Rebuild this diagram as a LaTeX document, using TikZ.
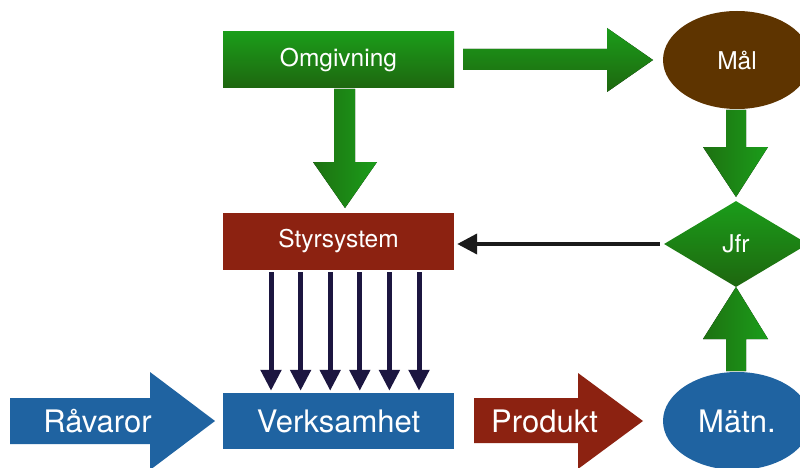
\documentclass[tikz,border=0pt]{standalone}
\usepackage{fontspec}
\setmainfont{TeX Gyre Heros}
\usetikzlibrary{shapes.geometric,arrows.meta}

\definecolor{gtop}{RGB}{27,157,26}
\definecolor{gbot}{RGB}{30,102,15}
\definecolor{rust}{RGB}{140,34,17}
\definecolor{steel}{RGB}{31,99,161}
\definecolor{umber}{RGB}{94,52,0}
\definecolor{ink}{RGB}{28,22,64}
\definecolor{coal}{RGB}{26,26,26}

\begin{document}
\begin{tikzpicture}[x=1pt,y=-1pt,
  box/.style={rectangle,minimum width=231pt,minimum height=56pt,inner sep=0pt,text=white},
  oval/.style={ellipse,minimum width=148pt,minimum height=98pt,inner sep=0pt,text=white},
  greenfill/.style={top color=gtop,bottom color=gbot},
  greenside/.style={left color=gbot!80!gtop,right color=gtop},
  small/.style={font=\fontsize{24.5}{24.5}\selectfont},
  large/.style={font=\fontsize{31}{31}\selectfont},
  control/.style={draw=ink,line width=5pt,shorten <=2pt,shorten >=2pt,
    -{Triangle[width=20pt,length=21pt]}},
  feedback/.style={draw=coal,line width=4pt,shorten <=4pt,shorten >=3pt,
    -{Triangle[width=20pt,length=20pt]}}]

\clip (0,0) rectangle (800,468);
\fill[white] (0,0) rectangle (800,468);

% blocks
\node[box,greenfill,small] (omg) at (338.5,60) {Omgivning};
\node[box,fill=rust,small,minimum height=57pt] (sty) at (338.5,241.5) {Styrsystem};
\node[box,fill=steel,large] (verk) at (338.5,421) {Verksamhet};
\node[oval,fill=umber,small] (mal) at (737,60) {Mål};
\node[oval,fill=steel,large] (matn) at (737,421) {Mätn.};
\node[diamond,greenfill,small,minimum width=144pt,minimum height=86pt,inner sep=0pt,text=white] (jfr) at (736,244) {Jfr};

% green block arrows
\fill[greenfill] (463,49) -- (607,49) -- (607,28) -- (653,60) -- (607,92) -- (607,70) -- (463,70) -- cycle;
\fill[greenside] (334,89) -- (355,89) -- (355,162) -- (377,162) -- (345,208) -- (313,162) -- (334,162) -- cycle;
\fill[greenside] (726,110) -- (746,110) -- (746,147) -- (768,147) -- (736,197) -- (703,147) -- (726,147) -- cycle;
\fill[greenside] (726,371) -- (746,371) -- (746,339) -- (768,339) -- (736,287) -- (703,339) -- (726,339) -- cycle;

% input and output arrows
\fill[steel] (10,398) -- (150,398) -- (150,372) -- (215,421) -- (150,470) -- (150,444) -- (10,444) -- cycle;
\node[large,text=white] (rav) at (97.5,421) {Råvaror};
\fill[rust] (474,398) -- (578,398) -- (578,373) -- (643,421) -- (578,469) -- (578,443) -- (474,443) -- cycle;
\node[large,text=white] (prod) at (544.5,421) {Produkt};

% control signals
\foreach \dx in {-67.5,-37.9,-8.3,21.3,50.9,80.5}
  \draw[control] ([xshift=\dx pt]sty.south) -- ([xshift=\dx pt]verk.north);

% feedback
\draw[feedback] (jfr.west) -- (jfr.west -| sty.east);
\end{tikzpicture}
\end{document}
